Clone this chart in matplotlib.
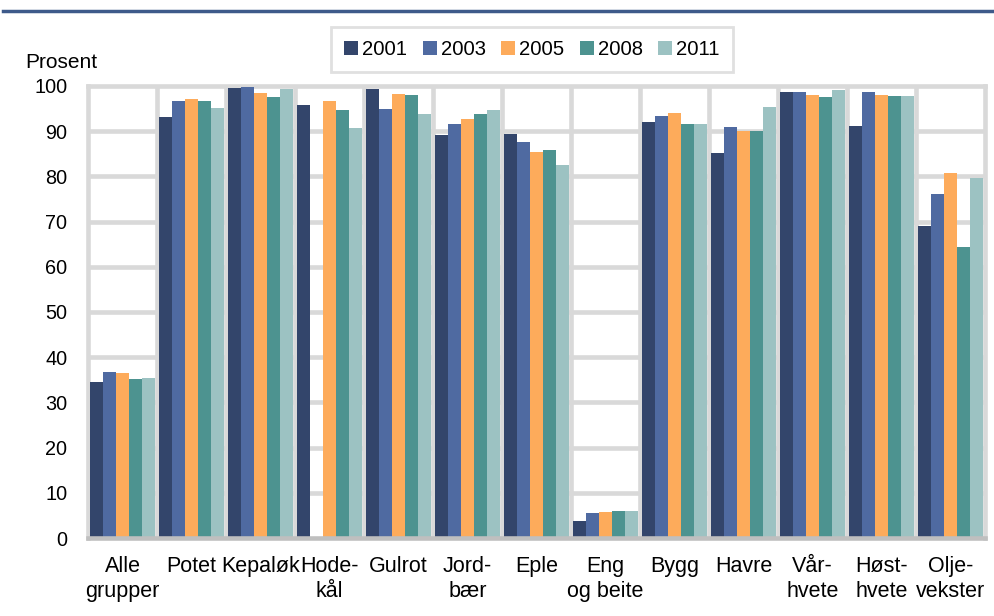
import numpy as np
import matplotlib
matplotlib.use("Agg")
import matplotlib.pyplot as plt
from matplotlib.lines import Line2D

categories = ["Alle\ngrupper", "Potet", "Kepaløk", "Hode-\nkål", "Gulrot", "Jord-\nbær",
              "Eple", "Eng\nog beite", "Bygg", "Havre", "Vår-\nhvete", "Høst-\nhvete",
              "Olje-\nvekster"]
years = ["2001", "2003", "2005", "2008", "2011"]

v2001 = [34.5, 93.1, 99.6, 95.9, 99.3, 89.2, 89.4, 3.8, 92.0, 85.2, 98.7, 91.1, 69.1]
v2003 = [36.8, 96.7, 99.8, np.nan, 94.9, 91.5, 87.6, 5.6, 93.4, 90.9, 98.7, 98.7, 76.0]
v2005 = [36.5, 97.1, 98.5, 96.6, 98.3, 92.6, 85.4, 5.7, 94.0, 90.0, 97.9, 97.9, 80.8]
v2008 = [35.1, 96.6, 97.6, 94.8, 97.9, 93.9, 85.8, 6.0, 91.5, 90.0, 97.6, 97.8, 64.4]
v2011 = [35.3, 95.1, 99.3, 90.8, 93.7, 94.7, 82.5, 6.0, 91.6, 95.3, 99.1, 97.7, 79.7]
series = [v2001, v2003, v2005, v2008, v2011]
colors = ["#33456b", "#4f6aa1", "#fdab5b", "#4d9390", "#9cc2c2"]

yticks = list(range(0, 101, 10))

plt.rcParams['font.family'] = ['Liberation Sans', 'DejaVu Sans']

fig = plt.figure(figsize=(9.95, 6.16), dpi=100)
ax = fig.add_axes([88/995, 1-538/616, (985-88)/995, (538-86)/616])

n = len(categories)
x = np.arange(n)
bw = 0.186
grid_c = "#d9d9d9"
lw = 3.3

for i, (vals, col, yr) in enumerate(zip(series, colors, years)):
    ax.bar(x + (i - 2) * bw, vals, width=bw, color=col, label=yr, zorder=3,
           edgecolor='none')

for yv in yticks[1:-1]:
    ax.axhline(yv, color=grid_c, lw=lw, zorder=1)
for b in range(1, n):
    ax.axvline(b - 0.5, color=grid_c, lw=lw, zorder=1)

ax.set_xlim(-0.5, n - 0.5)
ax.set_ylim(0, 100)
for s in ["left", "right", "top"]:
    ax.spines[s].set_color(grid_c)
    ax.spines[s].set_linewidth(lw)
ax.spines["bottom"].set_color("#bfbfbf")
ax.spines["bottom"].set_linewidth(lw)
ax.spines["bottom"].set_zorder(4)

ax.set_yticks(yticks)
ax.set_yticklabels([str(t) for t in yticks], fontsize=14.3)
ax.set_xticks(x)
ax.set_xticklabels(categories, fontsize=15.5, linespacing=1.25, va='top')
ax.tick_params(axis='both', length=0)
ax.tick_params(axis='y', pad=15)
ax.tick_params(axis='x', pad=13)

fig.text(25/995, 1-62/616, "Prosent", fontsize=15, ha='left', va='center')

leg = fig.legend(loc='center', bbox_to_anchor=(532/995, 1-49.5/616), ncol=5,
                 fontsize=14.6, frameon=True, fancybox=False, handlelength=0.7,
                 handleheight=0.7, handletextpad=0.2, columnspacing=0.75,
                 borderpad=0.65)
leg.get_frame().set_edgecolor(grid_c)
leg.get_frame().set_linewidth(2)

fig.add_artist(Line2D([3/995, 1.0], [1-11/616, 1-11/616], color="#3e5a8a", lw=2.5,
                      transform=fig.transFigure))

fig.savefig("out.png", dpi=100)
